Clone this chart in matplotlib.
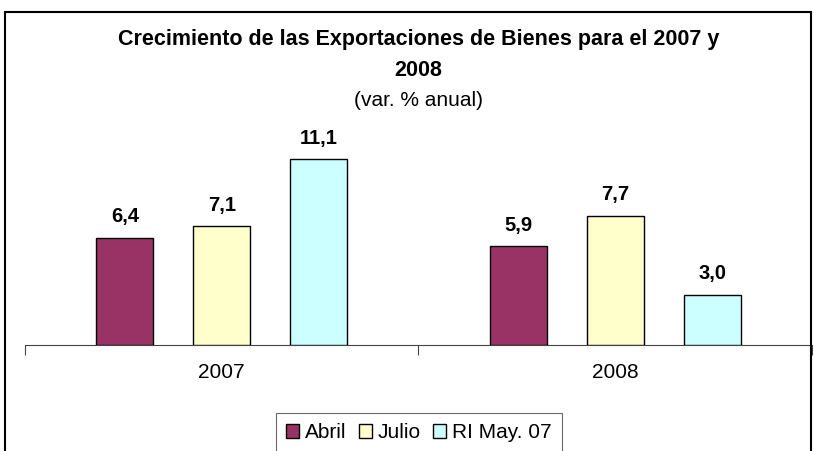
import numpy as np
import matplotlib.pyplot as plt
from matplotlib.patches import Rectangle

plt.rcParams['font.family'] = ['Liberation Sans', 'DejaVu Sans']

years = ['2007', '2008']
series = ['Abril', 'Julio', 'RI May. 07']
abril = [6.4, 5.9]
julio = [7.1, 7.7]
ri_may = [11.1, 3.0]
colors = ['#993366', '#FFFFCC', '#CCFFFF']

fig = plt.figure(figsize=(8.14, 4.51), dpi=100)
ax = fig.add_axes([25 / 814, 1 - 345 / 451, 787 / 814, 215 / 451])

x = np.arange(len(years))
w = 0.145
step = 0.246
for i, (vals, c, name) in enumerate(zip([abril, julio, ri_may], colors, series)):
    bars = ax.bar(x + (i - 1) * step, vals, w, color=c, edgecolor='black',
                  linewidth=1.0, label=name, zorder=3)
    for b, v in zip(bars, vals):
        ax.text(b.get_x() + b.get_width() / 2, v + 1.25, f'{v:.1f}'.replace('.', ','),
                ha='center', va='center', fontsize=14.5, fontweight='bold')

ax.set_xlim(-0.5, 1.5)
ax.set_ylim(0, 215 / 16.76)
ax.set_yticks([])
for s in ['left', 'right', 'top']:
    ax.spines[s].set_visible(False)
ax.spines['bottom'].set_color('#444444')
ax.set_xticks([-0.5, 0.5, 1.5])
ax.set_xticklabels([])
ax.tick_params(axis='x', length=7, color='#444444', direction='out')
for xi, yr in zip(x, years):
    ax.text(xi, -1.67, yr, ha='center', va='center', fontsize=15)

fig.text(0.514, 1 - 40 / 451, 'Crecimiento de las Exportaciones de Bienes para el 2007 y',
         ha='center', va='center', fontsize=15.5, fontweight='bold')
fig.text(0.514, 1 - 70 / 451, '2008', ha='center', va='center', fontsize=15.5, fontweight='bold')
fig.text(0.514, 1 - 100 / 451, '(var. % anual)', ha='center', va='center', fontsize=15)

leg = fig.legend(loc='upper center', bbox_to_anchor=(419 / 814, 1 - 413 / 451), ncol=3,
                 fontsize=15, frameon=True, fancybox=False, handlelength=0.6,
                 handleheight=0.6, handletextpad=0.3, columnspacing=0.6,
                 borderpad=0.5, borderaxespad=0)
leg.get_frame().set_edgecolor('#444444')
leg.get_frame().set_linewidth(0.8)

fig.add_artist(Rectangle((5 / 814, -0.1), 806 / 814, 1.1 - 12 / 451, transform=fig.transFigure,
                         fill=False, edgecolor='black', linewidth=1.5))

fig.savefig('out.png', dpi=100)
